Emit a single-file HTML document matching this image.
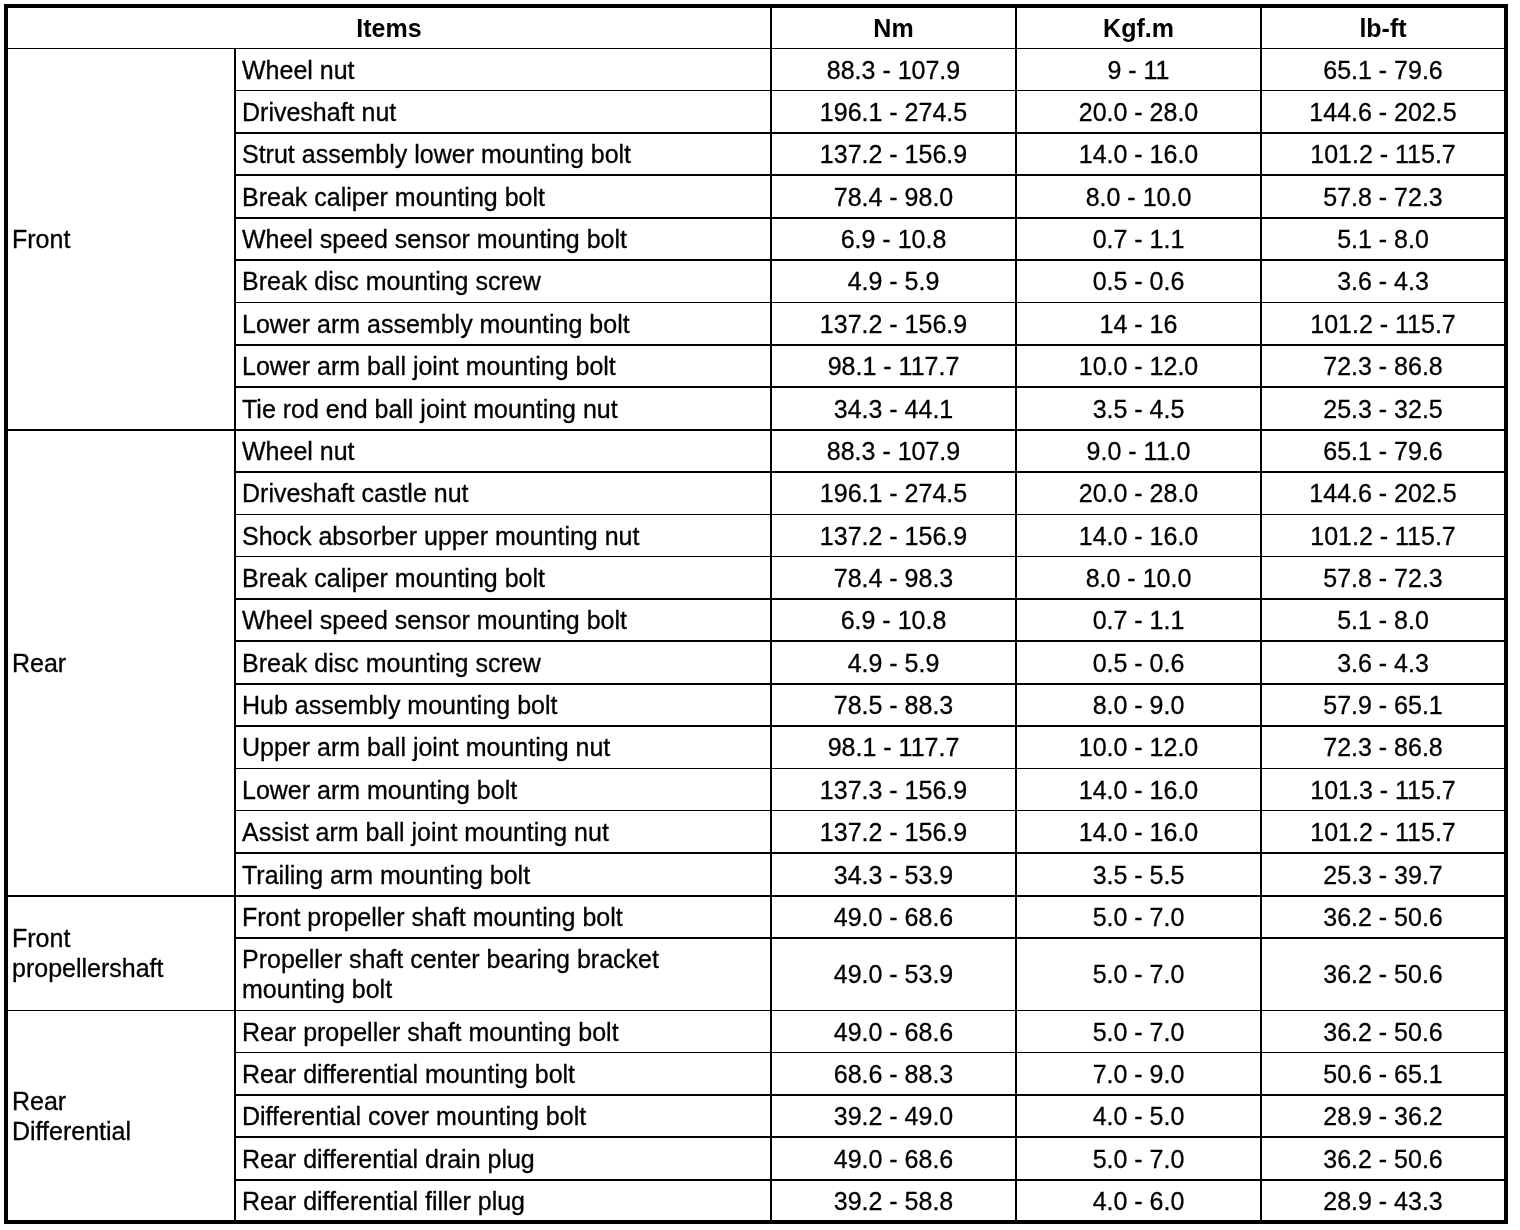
<!DOCTYPE html>
<html><head><meta charset="utf-8"><style>
html,body{margin:0;padding:0;background:#fff;width:1520px;height:1230px;overflow:hidden}
body{position:relative;font-family:"Liberation Sans",sans-serif;font-size:25px;color:#000}
#w{position:absolute;left:0;top:0;width:1520px;height:1230px;will-change:transform;-webkit-text-stroke:0.3px #000}
.l{position:absolute;background:#000}
.t{position:absolute;display:flex;align-items:center;white-space:nowrap;line-height:30px}
.c{justify-content:center}
.b{font-weight:bold;-webkit-text-stroke:0}
</style></head><body><div id="w">

<div class="l" style="left:4px;top:4px;width:1504px;height:4px"></div>
<div class="l" style="left:4px;top:4px;width:4px;height:1220px"></div>
<div class="l" style="left:1504px;top:4px;width:4px;height:1220px"></div>
<div class="l" style="left:8px;top:48px;width:1496px;height:1px"></div>
<div class="l" style="left:236px;top:90px;width:1268px;height:1px"></div>
<div class="l" style="left:236px;top:132px;width:1268px;height:2px"></div>
<div class="l" style="left:236px;top:174px;width:1268px;height:2px"></div>
<div class="l" style="left:236px;top:217px;width:1268px;height:2px"></div>
<div class="l" style="left:236px;top:259px;width:1268px;height:2px"></div>
<div class="l" style="left:236px;top:302px;width:1268px;height:1px"></div>
<div class="l" style="left:236px;top:344px;width:1268px;height:2px"></div>
<div class="l" style="left:236px;top:386px;width:1268px;height:2px"></div>
<div class="l" style="left:8px;top:429px;width:1496px;height:2px"></div>
<div class="l" style="left:236px;top:471px;width:1268px;height:2px"></div>
<div class="l" style="left:236px;top:514px;width:1268px;height:1px"></div>
<div class="l" style="left:236px;top:556px;width:1268px;height:1px"></div>
<div class="l" style="left:236px;top:598px;width:1268px;height:2px"></div>
<div class="l" style="left:236px;top:640px;width:1268px;height:2px"></div>
<div class="l" style="left:236px;top:683px;width:1268px;height:2px"></div>
<div class="l" style="left:236px;top:725px;width:1268px;height:2px"></div>
<div class="l" style="left:236px;top:768px;width:1268px;height:1px"></div>
<div class="l" style="left:236px;top:810px;width:1268px;height:1px"></div>
<div class="l" style="left:236px;top:852px;width:1268px;height:2px"></div>
<div class="l" style="left:8px;top:895px;width:1496px;height:2px"></div>
<div class="l" style="left:236px;top:937px;width:1268px;height:2px"></div>
<div class="l" style="left:8px;top:1010px;width:1496px;height:1px"></div>
<div class="l" style="left:236px;top:1052px;width:1268px;height:1px"></div>
<div class="l" style="left:236px;top:1094px;width:1268px;height:2px"></div>
<div class="l" style="left:236px;top:1136px;width:1268px;height:2px"></div>
<div class="l" style="left:236px;top:1179px;width:1268px;height:2px"></div>
<div class="l" style="left:4px;top:1220px;width:1504px;height:4px"></div>
<div class="l" style="left:234px;top:48px;width:2px;height:1172px"></div>
<div class="l" style="left:770px;top:8px;width:2px;height:1212px"></div>
<div class="l" style="left:1015px;top:8px;width:2px;height:1212px"></div>
<div class="l" style="left:1260px;top:8px;width:2px;height:1212px"></div>
<div class="t c b" style="left:8px;top:8.0px;width:762px;height:40.0px">Items</div>
<div class="t c b" style="left:772px;top:8.0px;width:243px;height:40.0px">Nm</div>
<div class="t c b" style="left:1017px;top:8.0px;width:243px;height:40.0px">Kgf.m</div>
<div class="t c b" style="left:1262px;top:8.0px;width:242px;height:40.0px">lb-ft</div>
<div class="t " style="left:242px;top:48.5px;width:528px;height:42.0px">Wheel nut</div>
<div class="t c" style="left:772px;top:48.5px;width:243px;height:42.0px">88.3 - 107.9</div>
<div class="t c" style="left:1017px;top:48.5px;width:243px;height:42.0px">9 - 11</div>
<div class="t c" style="left:1262px;top:48.5px;width:242px;height:42.0px">65.1 - 79.6</div>
<div class="t " style="left:242px;top:90.5px;width:528px;height:42.5px">Driveshaft nut</div>
<div class="t c" style="left:772px;top:90.5px;width:243px;height:42.5px">196.1 - 274.5</div>
<div class="t c" style="left:1017px;top:90.5px;width:243px;height:42.5px">20.0 - 28.0</div>
<div class="t c" style="left:1262px;top:90.5px;width:242px;height:42.5px">144.6 - 202.5</div>
<div class="t " style="left:242px;top:133.0px;width:528px;height:42.0px">Strut assembly lower mounting bolt</div>
<div class="t c" style="left:772px;top:133.0px;width:243px;height:42.0px">137.2 - 156.9</div>
<div class="t c" style="left:1017px;top:133.0px;width:243px;height:42.0px">14.0 - 16.0</div>
<div class="t c" style="left:1262px;top:133.0px;width:242px;height:42.0px">101.2 - 115.7</div>
<div class="t " style="left:242px;top:175.0px;width:528px;height:43.0px">Break caliper mounting bolt</div>
<div class="t c" style="left:772px;top:175.0px;width:243px;height:43.0px">78.4 - 98.0</div>
<div class="t c" style="left:1017px;top:175.0px;width:243px;height:43.0px">8.0 - 10.0</div>
<div class="t c" style="left:1262px;top:175.0px;width:242px;height:43.0px">57.8 - 72.3</div>
<div class="t " style="left:242px;top:218.0px;width:528px;height:42.0px">Wheel speed sensor mounting bolt</div>
<div class="t c" style="left:772px;top:218.0px;width:243px;height:42.0px">6.9 - 10.8</div>
<div class="t c" style="left:1017px;top:218.0px;width:243px;height:42.0px">0.7 - 1.1</div>
<div class="t c" style="left:1262px;top:218.0px;width:242px;height:42.0px">5.1 - 8.0</div>
<div class="t " style="left:242px;top:260.0px;width:528px;height:42.5px">Break disc mounting screw</div>
<div class="t c" style="left:772px;top:260.0px;width:243px;height:42.5px">4.9 - 5.9</div>
<div class="t c" style="left:1017px;top:260.0px;width:243px;height:42.5px">0.5 - 0.6</div>
<div class="t c" style="left:1262px;top:260.0px;width:242px;height:42.5px">3.6 - 4.3</div>
<div class="t " style="left:242px;top:302.5px;width:528px;height:42.5px">Lower arm assembly mounting bolt</div>
<div class="t c" style="left:772px;top:302.5px;width:243px;height:42.5px">137.2 - 156.9</div>
<div class="t c" style="left:1017px;top:302.5px;width:243px;height:42.5px">14 - 16</div>
<div class="t c" style="left:1262px;top:302.5px;width:242px;height:42.5px">101.2 - 115.7</div>
<div class="t " style="left:242px;top:345.0px;width:528px;height:42.0px">Lower arm ball joint mounting bolt</div>
<div class="t c" style="left:772px;top:345.0px;width:243px;height:42.0px">98.1 - 117.7</div>
<div class="t c" style="left:1017px;top:345.0px;width:243px;height:42.0px">10.0 - 12.0</div>
<div class="t c" style="left:1262px;top:345.0px;width:242px;height:42.0px">72.3 - 86.8</div>
<div class="t " style="left:242px;top:387.0px;width:528px;height:43.0px">Tie rod end ball joint mounting nut</div>
<div class="t c" style="left:772px;top:387.0px;width:243px;height:43.0px">34.3 - 44.1</div>
<div class="t c" style="left:1017px;top:387.0px;width:243px;height:43.0px">3.5 - 4.5</div>
<div class="t c" style="left:1262px;top:387.0px;width:242px;height:43.0px">25.3 - 32.5</div>
<div class="t " style="left:242px;top:430.0px;width:528px;height:42.0px">Wheel nut</div>
<div class="t c" style="left:772px;top:430.0px;width:243px;height:42.0px">88.3 - 107.9</div>
<div class="t c" style="left:1017px;top:430.0px;width:243px;height:42.0px">9.0 - 11.0</div>
<div class="t c" style="left:1262px;top:430.0px;width:242px;height:42.0px">65.1 - 79.6</div>
<div class="t " style="left:242px;top:472.0px;width:528px;height:42.5px">Driveshaft castle nut</div>
<div class="t c" style="left:772px;top:472.0px;width:243px;height:42.5px">196.1 - 274.5</div>
<div class="t c" style="left:1017px;top:472.0px;width:243px;height:42.5px">20.0 - 28.0</div>
<div class="t c" style="left:1262px;top:472.0px;width:242px;height:42.5px">144.6 - 202.5</div>
<div class="t " style="left:242px;top:514.5px;width:528px;height:42.0px">Shock absorber upper mounting nut</div>
<div class="t c" style="left:772px;top:514.5px;width:243px;height:42.0px">137.2 - 156.9</div>
<div class="t c" style="left:1017px;top:514.5px;width:243px;height:42.0px">14.0 - 16.0</div>
<div class="t c" style="left:1262px;top:514.5px;width:242px;height:42.0px">101.2 - 115.7</div>
<div class="t " style="left:242px;top:556.5px;width:528px;height:42.5px">Break caliper mounting bolt</div>
<div class="t c" style="left:772px;top:556.5px;width:243px;height:42.5px">78.4 - 98.3</div>
<div class="t c" style="left:1017px;top:556.5px;width:243px;height:42.5px">8.0 - 10.0</div>
<div class="t c" style="left:1262px;top:556.5px;width:242px;height:42.5px">57.8 - 72.3</div>
<div class="t " style="left:242px;top:599.0px;width:528px;height:42.0px">Wheel speed sensor mounting bolt</div>
<div class="t c" style="left:772px;top:599.0px;width:243px;height:42.0px">6.9 - 10.8</div>
<div class="t c" style="left:1017px;top:599.0px;width:243px;height:42.0px">0.7 - 1.1</div>
<div class="t c" style="left:1262px;top:599.0px;width:242px;height:42.0px">5.1 - 8.0</div>
<div class="t " style="left:242px;top:641.0px;width:528px;height:43.0px">Break disc mounting screw</div>
<div class="t c" style="left:772px;top:641.0px;width:243px;height:43.0px">4.9 - 5.9</div>
<div class="t c" style="left:1017px;top:641.0px;width:243px;height:43.0px">0.5 - 0.6</div>
<div class="t c" style="left:1262px;top:641.0px;width:242px;height:43.0px">3.6 - 4.3</div>
<div class="t " style="left:242px;top:684.0px;width:528px;height:42.0px">Hub assembly mounting bolt</div>
<div class="t c" style="left:772px;top:684.0px;width:243px;height:42.0px">78.5 - 88.3</div>
<div class="t c" style="left:1017px;top:684.0px;width:243px;height:42.0px">8.0 - 9.0</div>
<div class="t c" style="left:1262px;top:684.0px;width:242px;height:42.0px">57.9 - 65.1</div>
<div class="t " style="left:242px;top:726.0px;width:528px;height:42.5px">Upper arm ball joint mounting nut</div>
<div class="t c" style="left:772px;top:726.0px;width:243px;height:42.5px">98.1 - 117.7</div>
<div class="t c" style="left:1017px;top:726.0px;width:243px;height:42.5px">10.0 - 12.0</div>
<div class="t c" style="left:1262px;top:726.0px;width:242px;height:42.5px">72.3 - 86.8</div>
<div class="t " style="left:242px;top:768.5px;width:528px;height:42.0px">Lower arm mounting bolt</div>
<div class="t c" style="left:772px;top:768.5px;width:243px;height:42.0px">137.3 - 156.9</div>
<div class="t c" style="left:1017px;top:768.5px;width:243px;height:42.0px">14.0 - 16.0</div>
<div class="t c" style="left:1262px;top:768.5px;width:242px;height:42.0px">101.3 - 115.7</div>
<div class="t " style="left:242px;top:810.5px;width:528px;height:42.5px">Assist arm ball joint mounting nut</div>
<div class="t c" style="left:772px;top:810.5px;width:243px;height:42.5px">137.2 - 156.9</div>
<div class="t c" style="left:1017px;top:810.5px;width:243px;height:42.5px">14.0 - 16.0</div>
<div class="t c" style="left:1262px;top:810.5px;width:242px;height:42.5px">101.2 - 115.7</div>
<div class="t " style="left:242px;top:853.0px;width:528px;height:43.0px">Trailing arm mounting bolt</div>
<div class="t c" style="left:772px;top:853.0px;width:243px;height:43.0px">34.3 - 53.9</div>
<div class="t c" style="left:1017px;top:853.0px;width:243px;height:43.0px">3.5 - 5.5</div>
<div class="t c" style="left:1262px;top:853.0px;width:242px;height:43.0px">25.3 - 39.7</div>
<div class="t " style="left:242px;top:896.0px;width:528px;height:42.0px">Front propeller shaft mounting bolt</div>
<div class="t c" style="left:772px;top:896.0px;width:243px;height:42.0px">49.0 - 68.6</div>
<div class="t c" style="left:1017px;top:896.0px;width:243px;height:42.0px">5.0 - 7.0</div>
<div class="t c" style="left:1262px;top:896.0px;width:242px;height:42.0px">36.2 - 50.6</div>
<div class="t " style="left:242px;top:938.0px;width:528px;height:72.5px">Propeller shaft center bearing bracket<br>mounting bolt</div>
<div class="t c" style="left:772px;top:938.0px;width:243px;height:72.5px">49.0 - 53.9</div>
<div class="t c" style="left:1017px;top:938.0px;width:243px;height:72.5px">5.0 - 7.0</div>
<div class="t c" style="left:1262px;top:938.0px;width:242px;height:72.5px">36.2 - 50.6</div>
<div class="t " style="left:242px;top:1010.5px;width:528px;height:42.0px">Rear propeller shaft mounting bolt</div>
<div class="t c" style="left:772px;top:1010.5px;width:243px;height:42.0px">49.0 - 68.6</div>
<div class="t c" style="left:1017px;top:1010.5px;width:243px;height:42.0px">5.0 - 7.0</div>
<div class="t c" style="left:1262px;top:1010.5px;width:242px;height:42.0px">36.2 - 50.6</div>
<div class="t " style="left:242px;top:1052.5px;width:528px;height:42.5px">Rear differential mounting bolt</div>
<div class="t c" style="left:772px;top:1052.5px;width:243px;height:42.5px">68.6 - 88.3</div>
<div class="t c" style="left:1017px;top:1052.5px;width:243px;height:42.5px">7.0 - 9.0</div>
<div class="t c" style="left:1262px;top:1052.5px;width:242px;height:42.5px">50.6 - 65.1</div>
<div class="t " style="left:242px;top:1095.0px;width:528px;height:42.0px">Differential cover mounting bolt</div>
<div class="t c" style="left:772px;top:1095.0px;width:243px;height:42.0px">39.2 - 49.0</div>
<div class="t c" style="left:1017px;top:1095.0px;width:243px;height:42.0px">4.0 - 5.0</div>
<div class="t c" style="left:1262px;top:1095.0px;width:242px;height:42.0px">28.9 - 36.2</div>
<div class="t " style="left:242px;top:1137.0px;width:528px;height:43.0px">Rear differential drain plug</div>
<div class="t c" style="left:772px;top:1137.0px;width:243px;height:43.0px">49.0 - 68.6</div>
<div class="t c" style="left:1017px;top:1137.0px;width:243px;height:43.0px">5.0 - 7.0</div>
<div class="t c" style="left:1262px;top:1137.0px;width:242px;height:43.0px">36.2 - 50.6</div>
<div class="t " style="left:242px;top:1180.0px;width:528px;height:42.0px">Rear differential filler plug</div>
<div class="t c" style="left:772px;top:1180.0px;width:243px;height:42.0px">39.2 - 58.8</div>
<div class="t c" style="left:1017px;top:1180.0px;width:243px;height:42.0px">4.0 - 6.0</div>
<div class="t c" style="left:1262px;top:1180.0px;width:242px;height:42.0px">28.9 - 43.3</div>
<div class="t " style="left:12px;top:48.5px;width:222px;height:381.5px">Front</div>
<div class="t " style="left:12px;top:430.0px;width:222px;height:466.0px">Rear</div>
<div class="t " style="left:12px;top:896.0px;width:222px;height:114.5px">Front<br>propellershaft</div>
<div class="t " style="left:12px;top:1010.5px;width:222px;height:211.5px">Rear<br>Differential</div>
</div></body></html>
